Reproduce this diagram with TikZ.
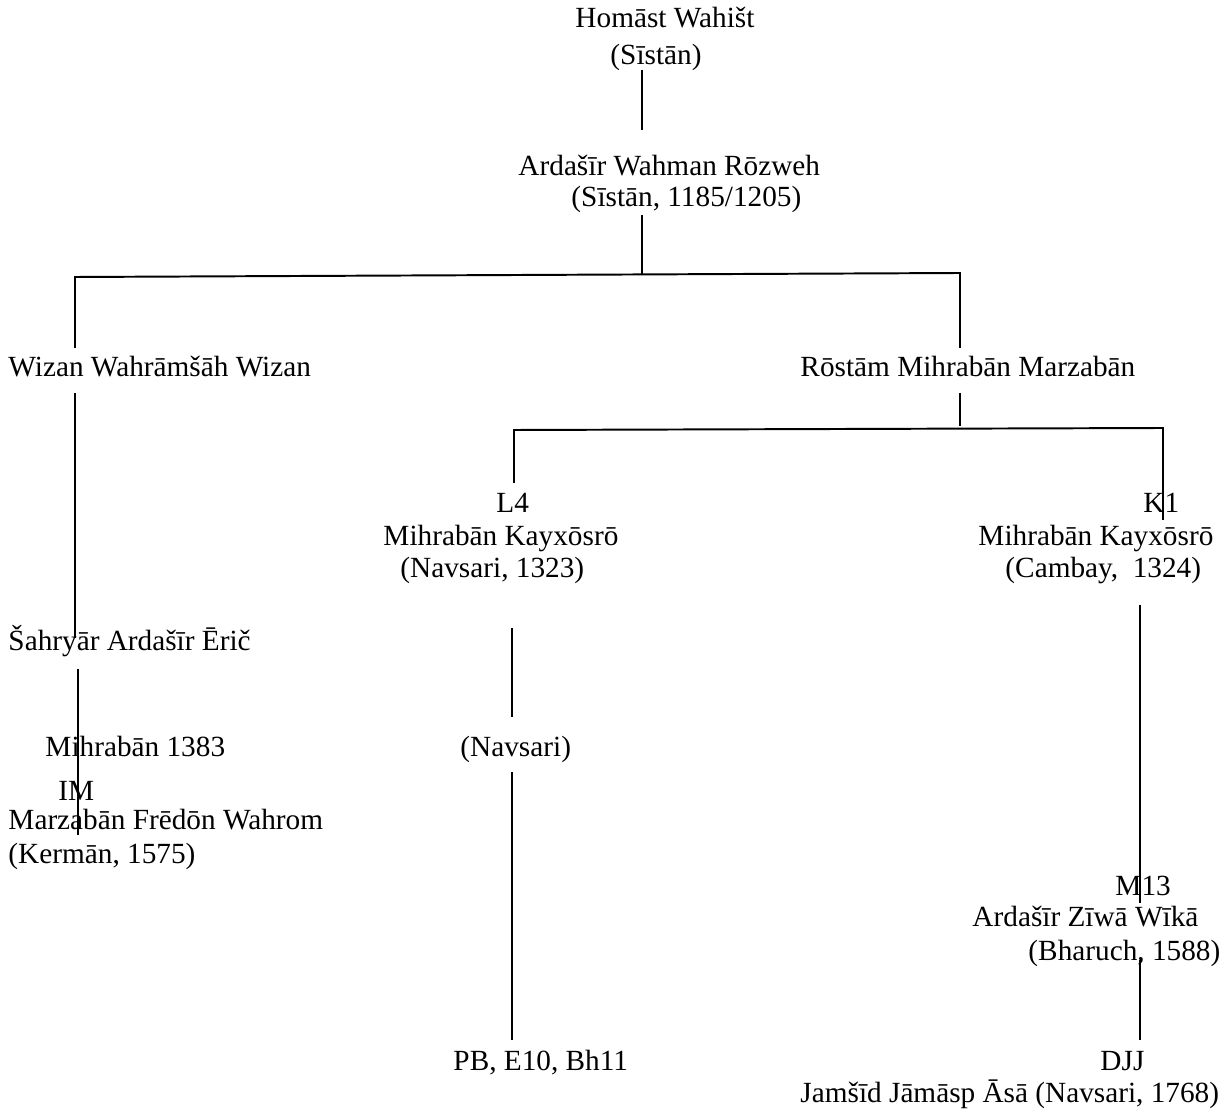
\documentclass[tikz,border=0pt]{standalone}
\usepackage{fontspec}
\setmainfont{Liberation Serif}
\usepackage{tikz}
\usetikzlibrary{positioning,calc}
\tikzset{
    person/.style={anchor=base west, inner sep=0pt, font=\fontsize{12}{14}\selectfont},
    line/.style={draw, line width=0.8pt}
}

\begin{document}
\begin{tikzpicture}[x=0.41pt, y=-0.41pt]
    \useasboundingbox (0,0) rectangle (1226,1111);

    % Top
    \node [person] (homast) at (575,28) {Homāst Wahišt};
    \node [person] (homastp) at (610,65) {(Sīstān)};
    \node [person] (ardasir) at (518,176) {Ardašīr Wahman Rōzweh};
    \node [person] (ardasirp) at (571,207) {(Sīstān, 1185/1205)};

    % Two sons
    \node [person] (wizan) at (8,377) {Wizan Wahrāmšāh Wizan};
    \node [person] (rostam) at (800,377) {Rōstām Mihrabān Marzabān};

    % Left line
    \node [person] (sahryar) at (8,651) {Šahryār Ardašīr Ērič};
    \node [person] (mihr) at (45,757) {Mihrabān 1383};
    \node [person] (im) at (58,800) {IM};
    \node [person] (marz) at (8,830) {Marzabān Frēdōn Wahrom};
    \node [person] (marzp) at (8,863) {(Kermān, 1575)};

    % L4
    \node [person] (lfour) at (496,513) {L4};
    \node [person] (lkay) at (383,546) {Mihrabān Kayxōsrō};
    \node [person] (lkayp) at (400,578) {(Navsari, 1323)};
    \node [person] (navsari) at (460,757) {(Navsari)};
    \node [person] (pb) at (453,1070) {PB, E10, Bh11};

    % K1
    \node [person] (kone) at (1143,513) {K1};
    \node [person] (kkay) at (978,546) {Mihrabān Kayxōsrō};
    \node [person] (kkayp) at (1005,578) {(Cambay,\ \ 1324)};
    \node [person] (mthree) at (1115,895) {M13};
    \node [person] (ziwa) at (972,927) {Ardašīr Zīwā Wīkā};
    \node [person] (ziwap) at (1028,960) {(Bharuch, 1588)};
    \node [person] (djj) at (1100,1070) {DJJ};
    \node [person] (jamsid) at (800,1102) {Jamšīd Jāmāsp Āsā (Navsari, 1768)};

    % Line ends
    \coordinate (a1) at (642,70);   \coordinate (a2) at (642,130);
    \coordinate (b1) at (642,215);  \coordinate (b2) at (642,275);
    \coordinate (bl) at (75,277);   \coordinate (br) at (960,273);
    \coordinate (wz1) at (75,348);  \coordinate (rs1) at (960,348);
    \coordinate (wz2) at (75,393);  \coordinate (wz3) at (75,638);
    \coordinate (sh1) at (78,669);  \coordinate (sh2) at (78,835);
    \coordinate (rs2) at (960,393); \coordinate (rs3) at (960,426);
    \coordinate (cl) at (514,430);  \coordinate (cr) at (1163,428);
    \coordinate (l1) at (514,483);  \coordinate (k1) at (1163,520);
    \coordinate (n1) at (512,628);  \coordinate (n2) at (512,717);
    \coordinate (n3) at (512,772);  \coordinate (n4) at (512,1040);
    \coordinate (m1) at (1140,605); \coordinate (m2) at (1140,903);
    \coordinate (d1) at (1140,960); \coordinate (d2) at (1140,1040);

    % Connectors
    \path [line] (a1) -- (a2);
    \path [line] (b1) -- (b2);
    \path [line] (wz1) -- (bl) -- (br) -- (rs1);
    \path [line] (wz2) -- (wz3);
    \path [line] (sh1) -- (sh2);
    \path [line] (rs2) -- (rs3);
    \path [line] (l1) -- (cl) -- (cr) -- (k1);
    \path [line] (n1) -- (n2);
    \path [line] (n3) -- (n4);
    \path [line] (m1) -- (m2);
    \path [line] (d1) -- (d2);
\end{tikzpicture}
\end{document}
